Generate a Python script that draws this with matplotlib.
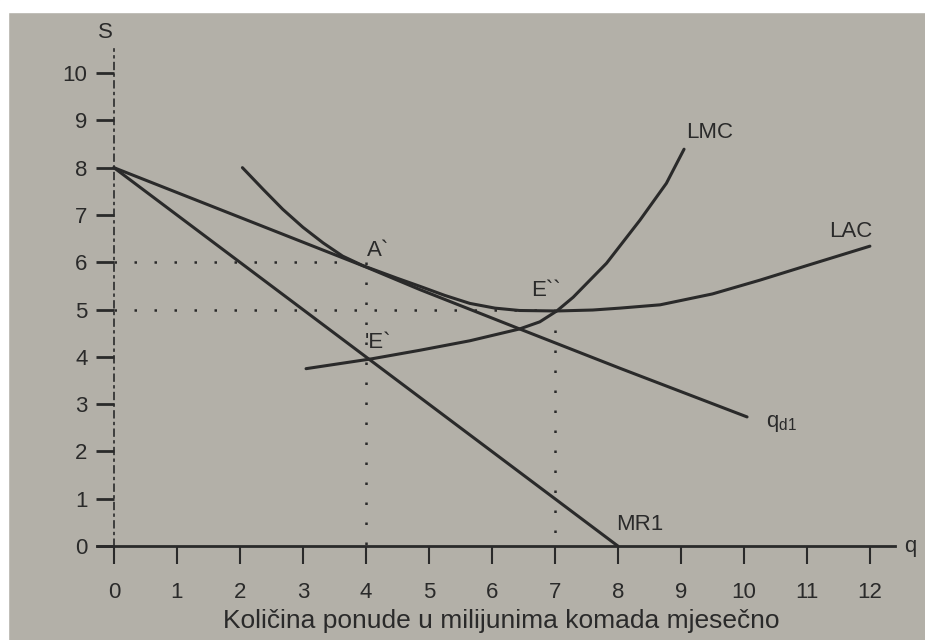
import matplotlib.pyplot as plt
from matplotlib.patches import Rectangle

# demand curve q_d1
demand_q = [0, 2, 4, 4.86, 6.44, 8.03, 10.05]
demand_p = [8.0, 6.95, 5.9, 5.42, 4.59, 3.76, 2.73]

# marginal revenue MR1
mr_q = [0, 4, 8]
mr_p = [8.0, 4.0, 0.0]

# long-run average cost LAC
lac_q = [2.04, 2.37, 2.68, 3.0, 3.32, 3.63, 3.95, 4.5, 4.86, 5.25, 5.65, 6.05, 6.44,
         7.03, 7.6, 8.03, 8.67, 9.5, 10.25, 11.0, 12.0]
lac_p = [8.0, 7.54, 7.12, 6.74, 6.41, 6.13, 5.93, 5.66, 5.49, 5.3, 5.13, 5.03, 4.98,
         4.97, 4.99, 5.03, 5.1, 5.33, 5.62, 5.93, 6.34]

# long-run marginal cost LMC
lmc_q = [3.05, 4.1, 4.86, 5.65, 6.44, 6.76, 7.03, 7.29, 7.82, 8.35, 8.77, 9.05]
lmc_p = [3.75, 3.96, 4.14, 4.34, 4.59, 4.74, 4.97, 5.26, 5.98, 6.89, 7.67, 8.39]

x_ticks = list(range(0, 13))
y_ticks = list(range(0, 11))

ink = '#2a2a2a'
paper = '#b3b0a8'
plt.rcParams['font.family'] = ['Liberation Sans', 'DejaVu Sans']

fig = plt.figure(figsize=(9.25, 6.4), dpi=100)
fig.patch.set_facecolor(paper)
# white photo border on top and left
fig.patches.append(Rectangle((0, 1 - 12 / 640), 1, 12 / 640, transform=fig.transFigure,
                             color='white', zorder=0))
fig.patches.append(Rectangle((0, 0), 8 / 925, 1, transform=fig.transFigure,
                             color='white', zorder=0))

ax = fig.add_axes([95 / 925, 84.5 / 640, 825.3 / 925, 539.2 / 640])
ax.set_facecolor('none')
ax.set_xlim(-0.3, 12.8)
ax.set_ylim(-0.2, 11.2)

for s in ['top', 'right']:
    ax.spines[s].set_visible(False)
ax.spines['left'].set_position(('data', 0))
ax.spines['left'].set_bounds(0, 10.5)
ax.spines['left'].set_linestyle((0, (4, 3, 1, 3)))
ax.spines['left'].set_linewidth(1.2)
ax.spines['left'].set_color(ink)
ax.spines['bottom'].set_position(('data', 0))
ax.spines['bottom'].set_bounds(-0.27, 12.4)
ax.spines['bottom'].set_linewidth(2)
ax.spines['bottom'].set_color(ink)

ax.set_xticks(x_ticks)
ax.set_xticklabels([str(t) for t in x_ticks])
ax.set_yticks(y_ticks)
ax.set_yticklabels([str(t) for t in y_ticks])
ax.tick_params(axis='x', direction='out', length=13, width=1.5, pad=13,
               colors=ink, labelsize=16)
ax.tick_params(axis='y', direction='out', length=13, width=2, pad=6,
               colors=ink, labelsize=16)

# dotted guide lines
dots = dict(color=ink, linestyle=(0, (1, 7)), linewidth=1.8)
ax.plot([0, 4], [6, 6], **dots)
ax.plot([4, 4], [6, 0], **dots)
ax.plot([0, 7], [5, 5], **dots)
ax.plot([7, 7], [5, 0], **dots)

line = dict(color=ink, lw=2.2, solid_capstyle='round', solid_joinstyle='round')
ax.plot(demand_q, demand_p, **line)
ax.plot(mr_q, mr_p, **line)
ax.plot(lac_q, lac_p, **line)
ax.plot(lmc_q, lmc_p, **line)

tk = dict(color=ink, fontsize=16)
ax.text(-0.25, 10.85, 'S', ha='left', va='center', **tk)
ax.text(12.55, 0.0, 'q', ha='left', va='center', **tk)
ax.text(9.45, 8.75, 'LMC', ha='center', va='center', **tk)
ax.text(11.7, 6.65, 'LAC', ha='center', va='center', **tk)
ax.text(10.35, 2.6, r'q$_{\mathregular{d1}}$', ha='left', va='center', **tk)
ax.text(8.35, 0.45, 'MR1', ha='center', va='center', **tk)
ax.text(4.2, 6.25, 'A`', ha='center', va='center', **tk)
ax.text(6.85, 5.4, 'E``', ha='center', va='center', **tk)
ax.text(4.2, 4.3, "'E`", ha='center', va='center', **tk)

ax.set_xlabel('Količina ponude u milijunima komada mjesečno', fontsize=19, color=ink)
ax.xaxis.set_label_coords((501 - 95) / 825.3, -(609 - 555.5) / 539.2)

fig.savefig('out.png', dpi=100, facecolor=fig.get_facecolor())
